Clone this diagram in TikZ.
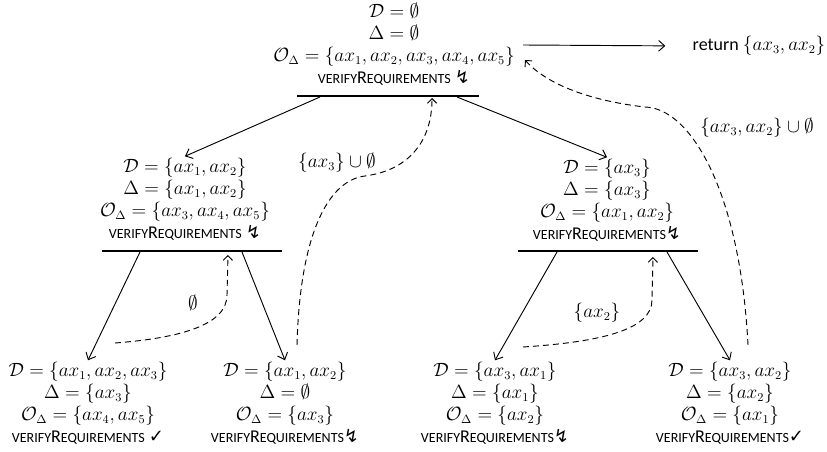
\documentclass[tikz,border=0pt]{standalone}
\usepackage{amsmath,amssymb}
\usepackage{fontspec}
\setmainfont{Carlito}
\newfontfamily\symfont{DejaVu Sans}
\usetikzlibrary{arrows.meta,positioning,calc}

% fake small caps for the check routine
\newcommand{\vreq}[1]{{\fontsize{10.5}{12}\selectfont VERIFY}R{\fontsize{10.5}{12}\selectfont EQUIREMENTS}#1}
\newcommand{\failsym}{{\symfont ↯}}
\newcommand{\holdsym}{{\symfont ✓}}

\begin{document}
\begin{tikzpicture}[x=0.75pt,y=-0.75pt,
    font=\fontsize{13.5}{16.5}\selectfont,
    state/.style={align=center,inner sep=1pt},
    bar/.style={line width=0.9pt},
    edge/.style={-{Straight Barb[length=4.5pt,width=8pt]},line width=0.7pt},
    back/.style={-{Straight Barb[length=3.5pt,width=7pt]},line width=0.7pt,
                 dash pattern=on 4.5pt off 3pt},
    lbl/.style={inner sep=1pt}]
  \useasboundingbox (0,0) rectangle (827,452);

  % search states
  \node[state] (root) at (394,44)
    {$\mathcal{D}=\emptyset$\\ $\Delta=\emptyset$\\
     $\mathcal{O}_\Delta=\{ax_1,ax_2,ax_3,ax_4,ax_5\}$\\ \vreq{\ \failsym}};
  \node[state] (lc) at (185,199)
    {$\mathcal{D}=\{ax_1,ax_2\}$\\ $\Delta=\{ax_1,ax_2\}$\\
     $\mathcal{O}_\Delta=\{ax_3,ax_4,ax_5\}$\\ \vreq{\ \failsym}};
  \node[state] (rc) at (607,200)
    {$\mathcal{D}=\{ax_3\}$\\ $\Delta=\{ax_3\}$\\
     $\mathcal{O}_\Delta=\{ax_1,ax_2\}$\\ \vreq{\failsym}};
  \node[state] (ll) at (88,403)
    {$\mathcal{D}=\{ax_1,ax_2,ax_3\}$\\ $\Delta=\{ax_3\}$\\
     $\mathcal{O}_\Delta=\{ax_4,ax_5\}$\\ \vreq{\ \holdsym}};
  \node[state] (lr) at (285,403)
    {$\mathcal{D}=\{ax_1,ax_2\}$\\ $\Delta=\emptyset$\\
     $\mathcal{O}_\Delta=\{ax_3\}$\\ \vreq{\failsym}};
  \node[state] (rl) at (495,403)
    {$\mathcal{D}=\{ax_3,ax_1\}$\\ $\Delta=\{ax_1\}$\\
     $\mathcal{O}_\Delta=\{ax_2\}$\\ \vreq{\failsym}};
  \node[state] (rr) at (730,403)
    {$\mathcal{D}=\{ax_3,ax_2\}$\\ $\Delta=\{ax_2\}$\\
     $\mathcal{O}_\Delta=\{ax_1\}$\\ \vreq{\holdsym}};
  \node[anchor=west] (ret) at (688,46) {return $\{ax_3,ax_2\}$};

  % bars under the states
  \draw[bar] (297,96) -- (479,96);
  \draw[bar] (102,251) -- (282,251);
  \draw[bar] (518,251) -- (698,251);

  % points on the bars and ends of the back arrows
  \coordinate (rootL) at (320,97);
  \coordinate (rootR) at (457,97);
  \coordinate (lcL) at (140,252);
  \coordinate (lcR) at (242,252);
  \coordinate (rcL) at (557,252);
  \coordinate (rcR) at (667,252);
  \coordinate (rootBack) at (432,98);
  \coordinate (lcBack) at (228,255);
  \coordinate (rcBack) at (653,257);
  \coordinate (rootIn) at (525,60);
  \coordinate (rootOut) at (523,45);
  \coordinate (llOut) at (115,343);
  \coordinate (lrOut) at (297,345);
  \coordinate (rlOut) at (523,347);
  \coordinate (rrOut) at (748,345);

  % expansion
  \draw[edge] (rootL) -- (lc.north);
  \draw[edge] (rootR) -- (rc.north);
  \draw[edge] (lcL) -- (ll.north);
  \draw[edge] (lcR) -- (lr.north);
  \draw[edge] (rcL) -- (rl.north);
  \draw[edge] (rcR) -- (rr.north);
  \draw[edge,shorten >=17pt] (rootOut) -- (ret.west);

  % results passed back up
  \draw[back] (llOut) .. controls (180,338) and (227,325) .. (227,295) -- (lcBack);
  \draw[back] (lrOut) .. controls (300,230) and (330,180) .. (365,176)
                      .. controls (410,170) and (432,140) .. (rootBack);
  \draw[back] (rlOut) .. controls (600,342) and (652,330) .. (652,300) -- (rcBack);
  \draw[back] (rrOut) .. controls (740,190) and (690,108) .. (645,107)
                      .. controls (600,102) and (550,88) .. (rootIn);

  \node[lbl] (l1) at (193,303) {$\emptyset$};
  \node[lbl] (l2) at (337,163) {$\{ax_3\}\cup\emptyset$};
  \node[lbl] (l3) at (597,313) {$\{ax_2\}$};
  \node[lbl] (l4) at (757,128) {$\{ax_3,ax_2\}\cup\emptyset$};
\end{tikzpicture}
\end{document}
